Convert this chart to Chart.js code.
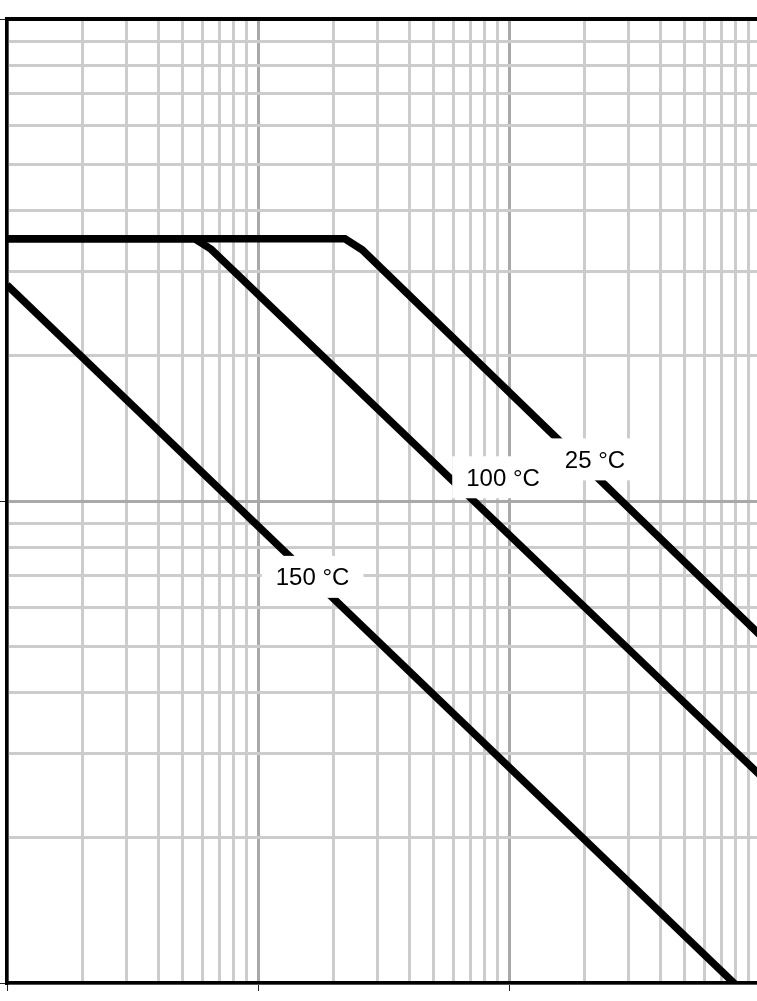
<!DOCTYPE html>
<html>
<head>
<meta charset="utf-8">
<script src="https://cdn.jsdelivr.net/npm/chart.js@4/dist/chart.umd.min.js"></script>
<style>
  html, body { margin: 0; padding: 0; background: #fff; overflow: hidden; }
  #wrap { width: 765px; height: 1001px; }
</style>
</head>
<body>
<div id="wrap"><canvas id="derating" width="765" height="1001"></canvas></div>
<script>
// grid values (log decades)
const xGrid = [1, 2, 3, 4, 5, 6, 7, 8, 9, 10, 20, 30, 40, 50, 60, 70, 80, 90, 100, 200, 300, 400, 500, 600, 700, 800, 900, 1000];
const yGrid = [1, 2, 3, 4, 5, 6, 7, 8, 9, 10, 20, 30, 40, 50, 60, 70, 80, 90, 100];

// curves, one per temperature
const tempLabels = ["25 °C", "100 °C", "150 °C"];
const x25 = [1, 22.2, 26, 1000];
const y25 = [35, 35, 33.2, 5.27];
const x100 = [1, 5.6, 6.5, 1000];
const y100 = [35, 35, 33.3, 2.7];
const x150 = [1, 1000];
const y150 = [28.06, 0.887];

// where each temperature label sits (data coords)
const labelX = [220, 94.7, 16.5];
const labelY = [12.2, 11.2, 6.96];

function isMajor(v) {
    const l = Math.log10(v);
    return Math.abs(l - Math.round(l)) < 1e-9;
}

function pts(xs, ys) {
    return xs.map((x, i) => ({ x: x, y: ys[i] }));
}

const gridOpts = {
    drawTicks: true,
    tickLength: 8,
    lineWidth: 3,
    color: (c) => (c.tick && isMajor(c.tick.value) ? "#a9a9a9" : "#cccccc"),
    tickColor: (c) => (c.tick && isMajor(c.tick.value) ? "#222" : "rgba(0,0,0,0)"),
    tickWidth: 1,
};

const labelPlugin = {
    id: "tempLabels",
    afterDatasetsDraw(chart) {
        const ctx = chart.ctx;
        const xs = chart.scales.x;
        const ys = chart.scales.y;
        ctx.save();
        ctx.font = "24px 'Liberation Sans', Arial, sans-serif";
        tempLabels.forEach((t, i) => {
            const cx = xs.getPixelForValue(labelX[i]);
            const cy = ys.getPixelForValue(labelY[i]);
            const w = ctx.measureText(t).width + 28;
            const h = 42;
            ctx.fillStyle = "#fff";
            ctx.fillRect(cx - w / 2, cy - h / 2, w, h);
            ctx.fillStyle = "#000";
            ctx.textAlign = "center";
            ctx.textBaseline = "alphabetic";
            ctx.fillText(t, cx, cy + 8.6);
        });
        ctx.restore();
    },
};

const lineStyle = {
    borderColor: "#000",
    borderWidth: 7.5,
    pointRadius: 0,
    tension: 0,
    fill: false,
    borderCapStyle: "butt",
};

const chart = new Chart(document.getElementById("derating").getContext("2d"), {
    type: "line",
    data: {
        datasets: [
            Object.assign({ label: tempLabels[0], data: pts(x25, y25) }, lineStyle),
            Object.assign({ label: tempLabels[1], data: pts(x100, y100) }, lineStyle),
            Object.assign({ label: tempLabels[2], data: pts(x150, y150) }, lineStyle),
        ],
    },
    options: {
        responsive: false,
        animation: false,
        devicePixelRatio: 1,
        layout: { padding: { left: 0, top: 0, right: 5, bottom: 0 } },
        plugins: { legend: { display: false }, tooltip: { enabled: false } },
        scales: {
            x: {
                type: "logarithmic",
                position: "bottom",
                min: 1,
                max: 1000,
                afterBuildTicks: (s) => { s.ticks = xGrid.map((v) => ({ value: v })); },
                afterFit: (s) => { s.height = 18; },
                ticks: { display: false },
                grid: gridOpts,
                border: { display: true, color: "#000", width: 3.5 },
            },
            xTop: {
                type: "logarithmic",
                position: "top",
                min: 1,
                max: 1000,
                afterFit: (s) => { s.height = 19; },
                ticks: { display: false },
                grid: { display: false, drawTicks: false },
                border: { display: true, color: "#000", width: 4 },
            },
            y: {
                type: "logarithmic",
                position: "left",
                min: 1,
                max: 100,
                afterBuildTicks: (s) => { s.ticks = yGrid.map((v) => ({ value: v })); },
                afterFit: (s) => { s.width = 7; },
                ticks: { display: false },
                grid: gridOpts,
                border: { display: true, color: "#000", width: 3.5 },
            },
        },
    },
    plugins: [labelPlugin],
});
</script>
</body>
</html>
